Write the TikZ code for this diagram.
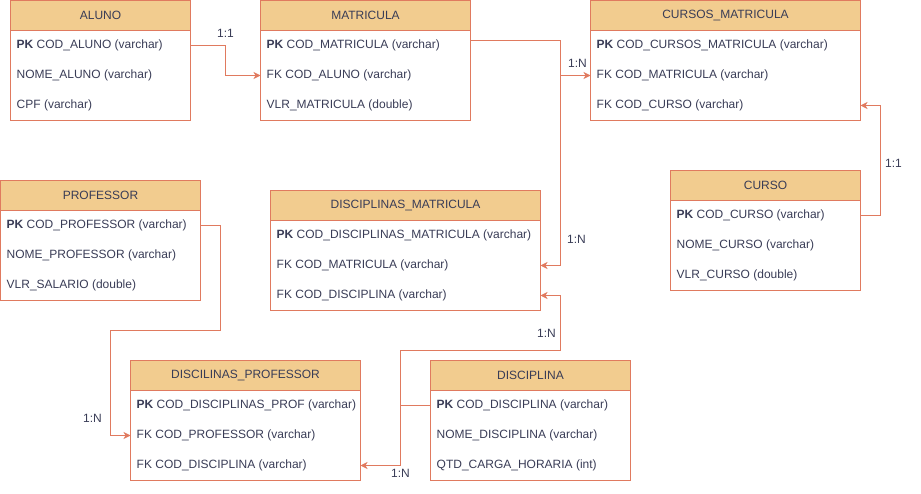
\documentclass[tikz,border=0pt]{standalone}
\usepackage{fontspec}
\setmainfont{Liberation Sans}
\usetikzlibrary{arrows.meta,calc}
\definecolor{hdrfill}{HTML}{F2CC8F}
\definecolor{strk}{HTML}{E07A5F}
\definecolor{txt}{HTML}{393C56}
\tikzset{
  hdr/.style={draw=strk, fill=hdrfill, line width=1pt, minimum height=30pt, inner sep=0pt, outer sep=0pt, text=txt, font=\fontsize{12}{14}\selectfont},
  rowbox/.style={minimum height=30pt, inner sep=0pt, outer sep=0pt},
  rowtxt/.style={anchor=west, inner sep=0pt, text=txt, font=\fontsize{12}{14}\selectfont},
  tblline/.style={draw=strk, line width=1pt},
  conn/.style={draw=strk, line width=1pt, -{Stealth[length=7pt,width=7pt,inset=2pt]}},
  plainconn/.style={draw=strk, line width=1pt},
  lbl/.style={inner sep=0pt, text=txt, font=\fontsize{12}{14}\selectfont},
}
\newcommand\ertable[8]{%
  \draw[tblline] (#2,#3) rectangle ++(#4,120);
  \node[hdr, minimum width=#4pt, anchor=north west] (#1) at (#2,#3) {#5};
  \node[rowbox, minimum width=#4pt, anchor=north west] (#1-1) at (#2,#3+30) {};
  \node[rowbox, minimum width=#4pt, anchor=north west] (#1-2) at (#2,#3+60) {};
  \node[rowbox, minimum width=#4pt, anchor=north west] (#1-3) at (#2,#3+90) {};
  \node[rowtxt] (#1-1t) at (#2+6,#3+45) {#6};
  \node[rowtxt] (#1-2t) at (#2+6,#3+75) {#7};
  \node[rowtxt] (#1-3t) at (#2+6,#3+105) {#8};
}
\begin{document}
\begin{tikzpicture}[x=1pt,y=-1pt]
\useasboundingbox (-0.5,-0.5) rectangle (920.5,493.5);
\ertable{aluno}{10}{0}{180}{ALUNO}{\textbf{PK} COD\_ALUNO (varchar)}{NOME\_ALUNO (varchar)}{CPF (varchar)}
\ertable{mat}{260}{0}{210}{MATRICULA}{\textbf{PK} COD\_MATRICULA (varchar)}{FK COD\_ALUNO (varchar)}{VLR\_MATRICULA (double)}
\ertable{cm}{590}{0}{270}{CURSOS\_MATRICULA}{\textbf{PK} COD\_CURSOS\_MATRICULA (varchar)}{FK COD\_MATRICULA (varchar)}{FK COD\_CURSO (varchar)}
\ertable{curso}{670}{170}{190}{CURSO}{\textbf{PK} COD\_CURSO (varchar)}{NOME\_CURSO (varchar)}{VLR\_CURSO (double)}
\ertable{prof}{0}{180}{200}{PROFESSOR}{\textbf{PK} COD\_PROFESSOR (varchar)}{NOME\_PROFESSOR (varchar)}{VLR\_SALARIO (double)}
\ertable{dm}{270}{190}{270}{DISCIPLINAS\_MATRICULA}{\textbf{PK} COD\_DISCIPLINAS\_MATRICULA (varchar)}{FK COD\_MATRICULA (varchar)}{FK COD\_DISCIPLINA (varchar)}
\ertable{dp}{130}{360}{230}{DISCILINAS\_PROFESSOR}{\textbf{PK} COD\_DISCIPLINAS\_PROF (varchar)}{FK COD\_PROFESSOR (varchar)}{FK COD\_DISCIPLINA (varchar)}
\ertable{disc}{430}{360}{200}{DISCIPLINA}{\textbf{PK} COD\_DISCIPLINA (varchar)}{NOME\_DISCIPLINA (varchar)}{QTD\_CARGA\_HORARIA (int)}

% connectors
\draw[conn] (aluno-1.east) -- ++(35,0) |- (mat-2.west);
\coordinate (mj) at (560,40);
\draw[conn] (mat-1.east |- mj) -- (mj) |- (cm-2.west);
\draw[conn] (mj) |- (dm-2.east);
\draw[conn] (curso-1.east) -- ++(20,0) |- (cm-3.east);
\draw[conn] (prof-1.east) -- ++(20,0) -- ++(0,105) -- ++(-110,0) |- (dp-2.west);
\coordinate (dj) at (400,405);
\draw[plainconn] (disc-1.west) -- (dj);
\draw[conn] (dj) -- ++(0,-55) -- ++(160,0) |- (dm-3.east);
\draw[conn] (dj) |- (dp-3.east);

% labels
\node[lbl] (l1) at (225,33) {1:1};
\node[lbl] (l2) at (577,63) {1:N};
\node[lbl] (l3) at (576,239) {1:N};
\node[lbl] (l4) at (893,163) {1:1};
\node[lbl] (l5) at (92,418) {1:N};
\node[lbl] (l6) at (546,333) {1:N};
\node[lbl] (l7) at (400,473) {1:N};
\end{tikzpicture}
\end{document}
